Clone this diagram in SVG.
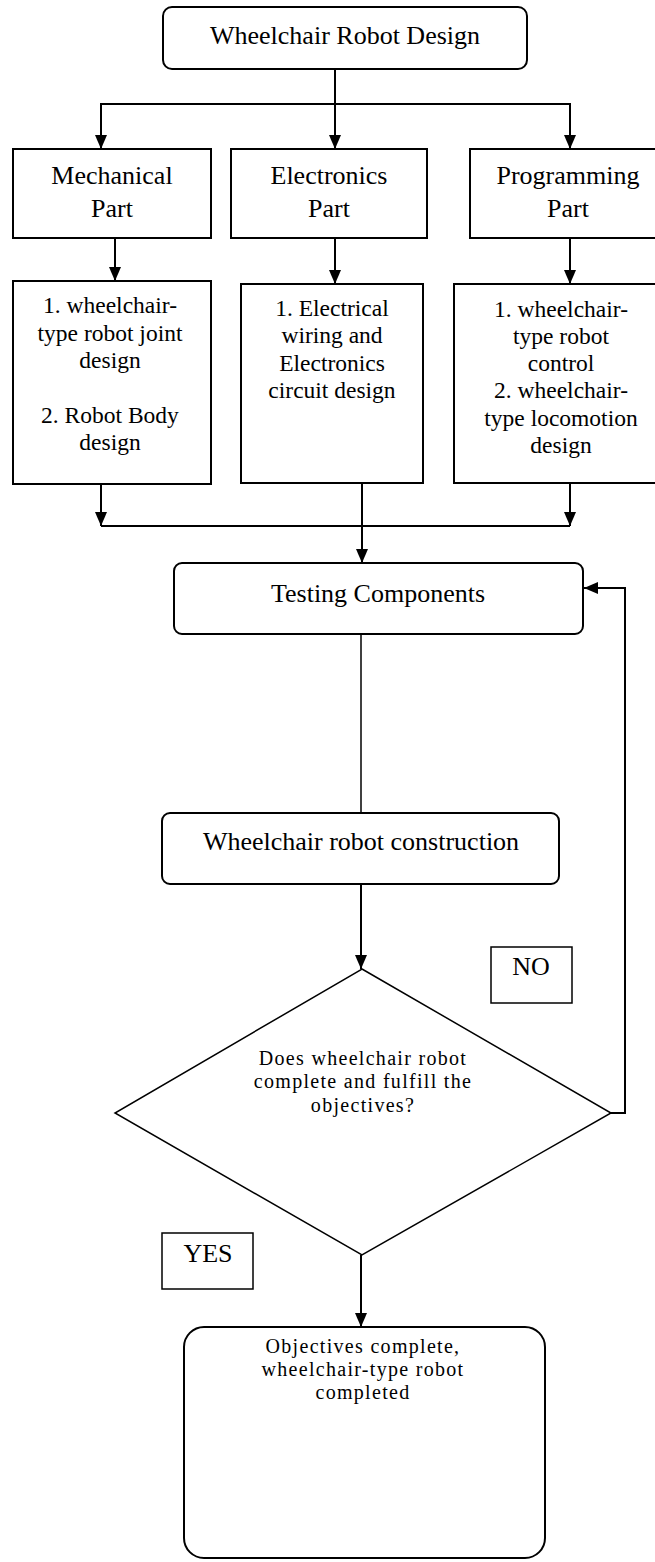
<svg xmlns="http://www.w3.org/2000/svg" width="655" height="1562" viewBox="0 0 655 1562">
<defs>
<style>
.box{fill:#fff;stroke:#000;stroke-width:2}
.thin{fill:#fff;stroke:#000;stroke-width:1.5}
.c{fill:none;stroke:#000;stroke-width:2}
.t{font-family:"Liberation Serif","Times New Roman",serif;font-size:26px;fill:#000;text-anchor:middle}
.d{font-family:"Liberation Serif","Times New Roman",serif;font-size:23.5px;fill:#000;text-anchor:middle}
.q{font-family:"Liberation Serif","Times New Roman",serif;font-size:20px;letter-spacing:1.3px;fill:#000;text-anchor:middle}
</style>
<marker id="ah" viewBox="0 0 14 12" refX="14" refY="6" markerWidth="14" markerHeight="12" markerUnits="userSpaceOnUse" orient="auto">
<path d="M0,0 L14,6 L0,12 z" fill="#000"/>
</marker>
</defs>
<rect width="655" height="1562" fill="#fff"/>
<g id="connectors">
<path class="c" d="M335,69 V149" marker-end="url(#ah)"/>
<path class="c" d="M335,104 H101 V149" marker-end="url(#ah)"/>
<path class="c" d="M335,104 H570 V149" marker-end="url(#ah)"/>
<path class="c" d="M115,238 V281" marker-end="url(#ah)"/>
<path class="c" d="M335,238 V284" marker-end="url(#ah)"/>
<path class="c" d="M570,238 V284" marker-end="url(#ah)"/>
<path class="c" d="M101,484 V526" marker-end="url(#ah)"/>
<path class="c" d="M570,483 V526" marker-end="url(#ah)"/>
<path class="c" d="M101,526 H570"/>
<path class="c" d="M362,483 V563" marker-end="url(#ah)"/>
<path class="c" d="M361,634 V813" style="stroke-width:1.5"/>
<path class="c" d="M361,884 V969" marker-end="url(#ah)"/>
<path class="c" d="M611,1113 H625 V588 H584" marker-end="url(#ah)"/>
<path class="c" d="M361,1255 V1327" marker-end="url(#ah)"/>
</g>
<g id="design">
<rect class="box" x="163" y="7" width="364" height="62" rx="9"/>
<text class="t" x="345" y="44">Wheelchair Robot Design</text>
</g>
<g id="mechanical">
<rect class="box" x="13" y="149" width="198" height="89"/>
<text class="t" x="112" y="184">Mechanical</text>
<text class="t" x="112" y="217">Part</text>
</g>
<g id="electronics">
<rect class="box" x="231" y="149" width="196" height="89"/>
<text class="t" x="329" y="184">Electronics</text>
<text class="t" x="329" y="217">Part</text>
</g>
<g id="programming">
<rect class="box" x="470" y="149" width="200" height="89"/>
<text class="t" x="568" y="184">Programming</text>
<text class="t" x="568" y="217">Part</text>
</g>
<g id="mech-tasks">
<rect class="box" x="13" y="281" width="198" height="203"/>
<text class="d" x="110" y="313">1. wheelchair-</text>
<text class="d" x="110" y="341">type robot joint</text>
<text class="d" x="110" y="368">design</text>
<text class="d" x="110" y="423">2. Robot Body</text>
<text class="d" x="110" y="450">design</text>
</g>
<g id="elec-tasks">
<rect class="box" x="241" y="284" width="182" height="199"/>
<text class="d" x="332" y="316">1. Electrical</text>
<text class="d" x="332" y="343">wiring and</text>
<text class="d" x="332" y="371">Electronics</text>
<text class="d" x="332" y="398">circuit design</text>
</g>
<g id="prog-tasks">
<rect class="box" x="454" y="284" width="210" height="199"/>
<text class="d" x="561" y="317">1. wheelchair-</text>
<text class="d" x="561" y="344">type robot</text>
<text class="d" x="561" y="371">control</text>
<text class="d" x="561" y="398">2. wheelchair-</text>
<text class="d" x="561" y="426">type locomotion</text>
<text class="d" x="561" y="453">design</text>
</g>
<g id="testing">
<rect class="box" x="174" y="563" width="409" height="71" rx="8"/>
<text class="t" x="378" y="602">Testing Components</text>
</g>
<g id="construction">
<rect class="box" x="162" y="813" width="397" height="71" rx="8"/>
<text class="t" x="361" y="850">Wheelchair robot construction</text>
</g>
<g id="decision">
<polygon class="thin" points="362,969 611,1113 362,1255 115,1113"/>
<text class="q" x="363" y="1065">Does wheelchair robot</text>
<text class="q" x="363" y="1088">complete and fulfill the</text>
<text class="q" x="363" y="1112">objectives?</text>
</g>
<g id="no-label">
<rect class="thin" x="491" y="947" width="81" height="56"/>
<text class="t" x="531" y="975">NO</text>
</g>
<g id="yes-label">
<rect class="thin" x="162" y="1233" width="91" height="56"/>
<text class="t" x="208" y="1262">YES</text>
</g>
<g id="done">
<rect class="box" x="184" y="1327" width="361" height="231" rx="20"/>
<text class="q" x="363" y="1353">Objectives complete,</text>
<text class="q" x="363" y="1376">wheelchair-type robot</text>
<text class="q" x="363" y="1399">completed</text>
</g>
</svg>
